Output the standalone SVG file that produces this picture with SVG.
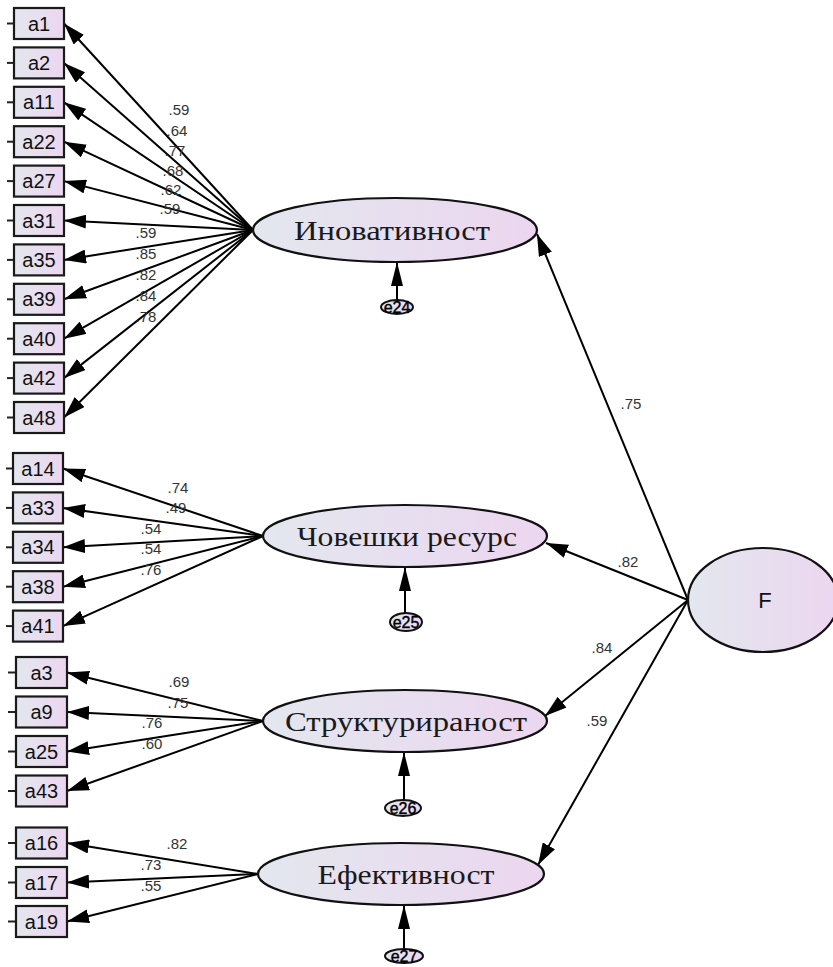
<svg xmlns="http://www.w3.org/2000/svg" width="833" height="967" viewBox="0 0 833 967">
<defs>
<linearGradient id="g" x1="0" y1="0" x2="1" y2="0">
<stop offset="0" stop-color="#e3e7ee"/>
<stop offset="1" stop-color="#ecd6f0"/>
</linearGradient>
<marker id="ah" viewBox="0 0 22 14" refX="22" refY="7" markerWidth="22" markerHeight="14" markerUnits="userSpaceOnUse" orient="auto">
<path d="M0,0 L22,7 L0,14 z" fill="#000"/>
</marker>
<marker id="ae" viewBox="0 0 24 12" refX="24" refY="6" markerWidth="24" markerHeight="12" markerUnits="userSpaceOnUse" orient="auto">
<path d="M0,0 L24,6 L0,12 z" fill="#000"/>
</marker>
</defs>
<style>
.box{fill:url(#g);stroke:#1a1a1a;stroke-width:2.2}
.bt{font-family:"Liberation Sans",Arial,sans-serif;font-size:20px;fill:#111;text-anchor:middle}
.ft{font-family:"Liberation Sans",Arial,sans-serif;font-size:22px;fill:#111;text-anchor:middle}
.lat{fill:url(#g);stroke:#111;stroke-width:2.2}
.lt{font-family:"Liberation Serif","Times New Roman",serif;font-size:28px;fill:#1a1a1a;text-anchor:middle}
.num{font-family:"Liberation Sans",Arial,sans-serif;font-size:15px;fill:#333;text-anchor:middle}
.err{fill:url(#g);stroke:#111;stroke-width:2}
.et{font-family:"Liberation Sans",Arial,sans-serif;font-size:16px;fill:#000;text-anchor:middle;stroke:#000;stroke-width:0.4}
.c{stroke:#000;stroke-width:2;fill:none;marker-end:url(#ah)}
.ce{stroke:#000;stroke-width:2;fill:none;marker-end:url(#ae)}
.tk{stroke:#222;stroke-width:2}
</style>

<g id="connectors">
<line class="c" x1="253" y1="230" x2="64" y2="23.5"/>
<line class="c" x1="253" y1="230" x2="64" y2="62.9"/>
<line class="c" x1="253" y1="230" x2="64" y2="102.3"/>
<line class="c" x1="253" y1="230" x2="64" y2="141.7"/>
<line class="c" x1="253" y1="230" x2="64" y2="181.1"/>
<line class="c" x1="253" y1="230" x2="64" y2="220.5"/>
<line class="c" x1="253" y1="230" x2="64" y2="259.9"/>
<line class="c" x1="253" y1="230" x2="64" y2="299.3"/>
<line class="c" x1="253" y1="230" x2="64" y2="338.7"/>
<line class="c" x1="253" y1="230" x2="64" y2="378.1"/>
<line class="c" x1="253" y1="230" x2="64" y2="417.5"/>
<line class="c" x1="263" y1="536" x2="63" y2="468.5"/>
<line class="c" x1="263" y1="536" x2="63" y2="507.9"/>
<line class="c" x1="263" y1="536" x2="63" y2="547.3"/>
<line class="c" x1="263" y1="536" x2="63" y2="586.7"/>
<line class="c" x1="263" y1="536" x2="63" y2="626.1"/>
<line class="c" x1="263" y1="721" x2="67" y2="672.5"/>
<line class="c" x1="263" y1="721" x2="67" y2="712"/>
<line class="c" x1="263" y1="721" x2="67" y2="751.5"/>
<line class="c" x1="263" y1="721" x2="67" y2="791"/>
<line class="c" x1="258" y1="874" x2="67" y2="843"/>
<line class="c" x1="258" y1="874" x2="67" y2="882.5"/>
<line class="c" x1="258" y1="874" x2="67" y2="921.5"/>
<line class="c" x1="688" y1="600" x2="537" y2="234"/>
<line class="c" x1="688" y1="600" x2="546" y2="543"/>
<line class="c" x1="688" y1="600" x2="545" y2="716"/>
<line class="c" x1="688" y1="600" x2="538" y2="865"/>
<line class="ce" x1="397" y1="300" x2="397" y2="262"/>
<line class="ce" x1="405" y1="613" x2="405" y2="567"/>
<line class="ce" x1="404" y1="800" x2="404" y2="752"/>
<line class="ce" x1="404" y1="949" x2="404" y2="905"/>
<line class="tk" x1="7" y1="23.5" x2="14" y2="23.5"/>
<line class="tk" x1="7" y1="62.9" x2="14" y2="62.9"/>
<line class="tk" x1="7" y1="102.3" x2="14" y2="102.3"/>
<line class="tk" x1="7" y1="141.7" x2="14" y2="141.7"/>
<line class="tk" x1="7" y1="181.1" x2="14" y2="181.1"/>
<line class="tk" x1="7" y1="220.5" x2="14" y2="220.5"/>
<line class="tk" x1="7" y1="259.9" x2="14" y2="259.9"/>
<line class="tk" x1="7" y1="299.3" x2="14" y2="299.3"/>
<line class="tk" x1="7" y1="338.7" x2="14" y2="338.7"/>
<line class="tk" x1="7" y1="378.1" x2="14" y2="378.1"/>
<line class="tk" x1="7" y1="417.5" x2="14" y2="417.5"/>
<line class="tk" x1="6" y1="468.5" x2="13" y2="468.5"/>
<line class="tk" x1="6" y1="507.9" x2="13" y2="507.9"/>
<line class="tk" x1="6" y1="547.3" x2="13" y2="547.3"/>
<line class="tk" x1="6" y1="586.7" x2="13" y2="586.7"/>
<line class="tk" x1="6" y1="626.1" x2="13" y2="626.1"/>
<line class="tk" x1="8" y1="672.5" x2="16" y2="672.5"/>
<line class="tk" x1="8" y1="712" x2="16" y2="712"/>
<line class="tk" x1="8" y1="751.5" x2="16" y2="751.5"/>
<line class="tk" x1="8" y1="791" x2="16" y2="791"/>
<line class="tk" x1="8" y1="843" x2="16" y2="843"/>
<line class="tk" x1="8" y1="882.5" x2="16" y2="882.5"/>
<line class="tk" x1="8" y1="921.5" x2="16" y2="921.5"/>
</g>

<g id="labels">
<text class="num" x="179" y="115">.59</text>
<text class="num" x="177" y="136">.64</text>
<text class="num" x="175" y="156">.77</text>
<text class="num" x="173" y="176">.68</text>
<text class="num" x="171" y="195">.62</text>
<text class="num" x="170" y="214">.59</text>
<text class="num" x="146" y="238">.59</text>
<text class="num" x="146" y="259">.85</text>
<text class="num" x="146" y="280">.82</text>
<text class="num" x="146" y="301">.84</text>
<text class="num" x="146" y="322">.78</text>
<text class="num" x="178" y="493">.74</text>
<text class="num" x="176" y="513">.49</text>
<text class="num" x="151" y="534">.54</text>
<text class="num" x="151" y="554">.54</text>
<text class="num" x="151" y="575">.76</text>
<text class="num" x="179" y="687">.69</text>
<text class="num" x="178" y="708">.75</text>
<text class="num" x="152" y="728">.76</text>
<text class="num" x="152" y="749">.60</text>
<text class="num" x="177" y="849">.82</text>
<text class="num" x="151" y="870">.73</text>
<text class="num" x="151" y="891">.55</text>
<text class="num" x="631" y="409">.75</text>
<text class="num" x="628" y="567">.82</text>
<text class="num" x="602" y="653">.84</text>
<text class="num" x="597" y="726">.59</text>
</g>

<g id="a1"><rect class="box" x="14" y="8" width="50" height="31"/><text class="bt" x="39" y="30.5">a1</text></g>
<g id="a2"><rect class="box" x="14" y="47.4" width="50" height="31"/><text class="bt" x="39" y="69.9">a2</text></g>
<g id="a11"><rect class="box" x="14" y="86.8" width="50" height="31"/><text class="bt" x="39" y="109.3">a11</text></g>
<g id="a22"><rect class="box" x="14" y="126.2" width="50" height="31"/><text class="bt" x="39" y="148.7">a22</text></g>
<g id="a27"><rect class="box" x="14" y="165.6" width="50" height="31"/><text class="bt" x="39" y="188.1">a27</text></g>
<g id="a31"><rect class="box" x="14" y="205" width="50" height="31"/><text class="bt" x="39" y="227.5">a31</text></g>
<g id="a35"><rect class="box" x="14" y="244.4" width="50" height="31"/><text class="bt" x="39" y="266.9">a35</text></g>
<g id="a39"><rect class="box" x="14" y="283.8" width="50" height="31"/><text class="bt" x="39" y="306.3">a39</text></g>
<g id="a40"><rect class="box" x="14" y="323.2" width="50" height="31"/><text class="bt" x="39" y="345.7">a40</text></g>
<g id="a42"><rect class="box" x="14" y="362.6" width="50" height="31"/><text class="bt" x="39" y="385.1">a42</text></g>
<g id="a48"><rect class="box" x="14" y="402" width="50" height="31"/><text class="bt" x="39" y="424.5">a48</text></g>

<g id="a14"><rect class="box" x="13" y="453" width="50" height="31"/><text class="bt" x="38" y="475.5">a14</text></g>
<g id="a33"><rect class="box" x="13" y="492.4" width="50" height="31"/><text class="bt" x="38" y="514.9">a33</text></g>
<g id="a34"><rect class="box" x="13" y="531.8" width="50" height="31"/><text class="bt" x="38" y="554.3">a34</text></g>
<g id="a38"><rect class="box" x="13" y="571.2" width="50" height="31"/><text class="bt" x="38" y="593.7">a38</text></g>
<g id="a41"><rect class="box" x="13" y="610.6" width="50" height="31"/><text class="bt" x="38" y="633.1">a41</text></g>

<g id="a3"><rect class="box" x="16" y="657" width="51" height="31"/><text class="bt" x="41.5" y="679.5">a3</text></g>
<g id="a9"><rect class="box" x="16" y="696.5" width="51" height="31"/><text class="bt" x="41.5" y="719">a9</text></g>
<g id="a25"><rect class="box" x="16" y="736" width="51" height="31"/><text class="bt" x="41.5" y="758.5">a25</text></g>
<g id="a43"><rect class="box" x="16" y="775.5" width="51" height="31"/><text class="bt" x="41.5" y="798">a43</text></g>

<g id="a16"><rect class="box" x="16" y="827.5" width="51" height="31"/><text class="bt" x="41.5" y="850">a16</text></g>
<g id="a17"><rect class="box" x="16" y="867" width="51" height="31"/><text class="bt" x="41.5" y="889.5">a17</text></g>
<g id="a19"><rect class="box" x="16" y="906" width="51" height="31"/><text class="bt" x="41.5" y="928.5">a19</text></g>

<g id="inov"><ellipse class="lat" cx="395" cy="230" rx="142" ry="32"/><text class="lt" x="392" y="240" textLength="196" lengthAdjust="spacingAndGlyphs">Иновативност</text></g>
<g id="chov"><ellipse class="lat" cx="405" cy="536" rx="142" ry="31"/><text class="lt" x="407" y="546" textLength="220" lengthAdjust="spacingAndGlyphs">Човешки ресурс</text></g>
<g id="struk"><ellipse class="lat" cx="405" cy="721" rx="142" ry="31"/><text class="lt" x="406" y="731" textLength="242" lengthAdjust="spacingAndGlyphs">Структурираност</text></g>
<g id="efek"><ellipse class="lat" cx="401" cy="874" rx="143" ry="31"/><text class="lt" x="406" y="884" textLength="177" lengthAdjust="spacingAndGlyphs">Ефективност</text></g>

<g id="F"><ellipse class="lat" cx="763" cy="600" rx="75" ry="52"/><text class="ft" x="765" y="608">F</text></g>

<g id="e24"><ellipse class="err" cx="397" cy="307" rx="16" ry="7"/><text class="et" x="397" y="313">e24</text></g>
<g id="e25"><ellipse class="err" cx="406" cy="622" rx="16" ry="9"/><text class="et" x="406" y="628">e25</text></g>
<g id="e26"><ellipse class="err" cx="403" cy="808" rx="18" ry="8"/><text class="et" x="403" y="814">e26</text></g>
<g id="e27"><ellipse class="err" cx="404" cy="956" rx="19" ry="7"/><text class="et" x="404" y="962">e27</text></g>
</svg>
